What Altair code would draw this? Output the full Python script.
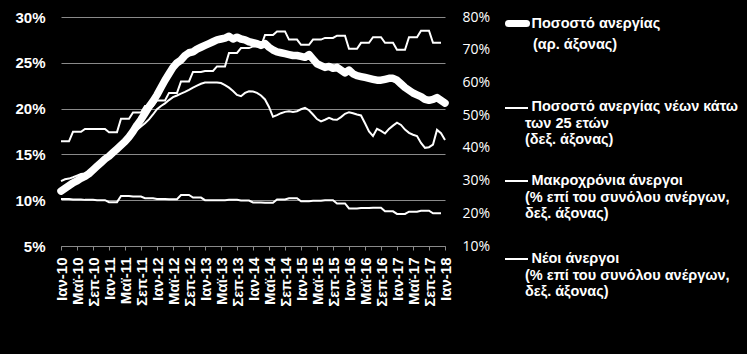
import altair as alt
import pandas as pd

# ---- data ----
month_abbr = ["Ιαν", "Φεβ", "Μαρ", "Απρ", "Μαϊ", "Ιουν", "Ιουλ", "Αυγ", "Σεπ", "Οκτ", "Νοε", "Δεκ"]
months = [f"{month_abbr[k % 12]}-{10 + k // 12}" for k in range(97)]

unemployment = [
    11.0, 11.3, 11.6, 11.9, 12.1, 12.4, 12.6, 12.9, 13.3, 13.7, 14.1, 14.5,
    14.8, 15.2, 15.6, 16.0, 16.4, 16.9, 17.5, 18.2, 18.8, 19.5, 20.2, 20.8,
    21.5, 22.3, 23.1, 23.8, 24.5, 25.0, 25.3, 25.8, 26.1, 26.2, 26.5, 26.7,
    26.9, 27.1, 27.3, 27.5, 27.6, 27.7, 27.9, 27.6, 27.8, 27.6, 27.5, 27.3,
    27.2, 27.1, 26.9, 27.1, 26.7, 26.4, 26.2, 26.1, 26.0, 25.9, 25.8, 25.8,
    25.7, 25.6, 25.9, 25.4, 24.9, 24.7, 24.5, 24.6, 24.4, 24.5, 24.2, 23.9,
    24.2, 23.8, 23.6, 23.5, 23.4, 23.3, 23.2, 23.1, 23.1, 23.2, 23.3, 23.3,
    23.1, 22.7, 22.3, 22.0, 21.7, 21.5, 21.3, 21.0, 20.9, 21.0, 21.2, 20.9,
    20.6,
]

youth = [
    29.8, 30.4, 30.6, 31.0, 31.5, 32.0, 32.2, 32.5, 33.2, 34.0, 35.0, 36.0,
    37.0, 38.0, 39.0, 40.0, 41.5, 43.0, 44.5, 45.5, 46.5, 47.5, 48.7, 50.2,
    51.8, 52.8, 53.6, 54.6, 55.5, 56.0, 56.6, 57.1, 57.7, 58.4, 59.0, 59.6,
    60.0, 60.0, 60.0, 60.0, 59.8, 59.2, 58.4, 57.4, 56.2, 55.8, 56.8, 57.3,
    57.2, 56.8, 56.0, 54.8, 52.5, 49.5, 50.0, 50.6, 51.0, 51.2, 51.0, 51.2,
    51.8, 52.2, 51.5, 50.2, 48.8, 48.1, 48.6, 49.2, 48.7, 48.6, 49.4, 50.4,
    50.9, 50.6, 50.2, 49.9, 47.5, 45.0, 43.6, 45.8, 45.2, 44.4, 45.8, 46.8,
    47.7, 47.0, 45.6, 44.6, 44.0, 43.6, 41.5, 40.0, 40.2, 41.0, 45.5, 44.5,
    42.4,
]

long_term_q = [
    42.0, 44.9, 45.8, 45.8, 44.8, 48.9, 50.8, 52.8,
    54.5, 56.8, 60.3, 63.2, 63.5, 64.9, 69.0, 70.5,
    71.0, 74.5, 75.6, 73.1, 71.5, 73.1, 73.6, 74.3,
    70.3, 72.1, 73.8, 72.1, 70.0, 73.8, 75.8, 72.1,
]

new_unemp_q = [
    24.4, 24.2, 24.1, 24.0, 23.4, 25.3, 25.1, 24.6,
    24.4, 24.3, 25.6, 24.8, 24.0, 24.0, 24.1, 23.9,
    23.3, 23.2, 24.2, 24.6, 23.7, 23.8, 24.0, 23.0,
    21.5, 21.6, 21.7, 20.6, 19.8, 20.5, 20.8, 20.0,
]

legend_lines = [
    ["Ποσοστό ανεργίας", "(αρ. άξονας)"],
    ["Ποσοστό ανεργίας νέων κάτω", "των 25 ετών", "(δεξ. άξονας)"],
    ["Μακροχρόνια άνεργοι", "(% επί του συνόλου ανέργων,", "δεξ. άξονας)"],
    ["Νέοι άνεργοι", "(% επί του συνόλου ανέργων,", "δεξ. άξονας)"],
]

# ---- tables ----
long_term = [v for v in long_term_q for _ in range(3)] + [None]
new_unemp = [v for v in new_unemp_q for _ in range(3)] + [None]
idx = list(range(97))

df_left = pd.DataFrame({"i": idx, "v": unemployment})
df_right = pd.concat([
    pd.DataFrame({"i": idx, "v": youth, "s": "youth"}),
    pd.DataFrame({"i": idx, "v": long_term, "s": "long"}),
    pd.DataFrame({"i": idx, "v": new_unemp, "s": "new"}),
])

label_array = "[" + ",".join(f"'{m}'" for m in months) + "]"
x_enc = alt.X(
    "i:Q",
    scale=alt.Scale(domain=[0, 96], nice=False, zero=False),
    axis=alt.Axis(
        values=list(range(0, 97, 4)),
        labelExpr=f"{label_array}[datum.value]",
        labelAngle=-90,
        labelFont="Liberation Sans",
        labelFontWeight="bold",
        labelFontSize=15,
        labelColor="white",
        labelPadding=7,
        tickSize=4,
        tickColor="#8a8a8a",
        domainColor="#8a8a8a",
        grid=False,
        title=None,
        labelOverlap=False,
    ),
    title=None,
)

right = alt.Chart(df_right).mark_line(color="white", strokeWidth=2).encode(
    x=x_enc,
    y=alt.Y(
        "v:Q",
        scale=alt.Scale(domain=[10, 80], nice=False, zero=False),
        axis=alt.Axis(
            orient="right",
            values=list(range(10, 81, 10)),
            labelExpr="datum.value + '%'",
            labelFont="Open Sans",
            labelFontSize=14,
            labelColor="white",
            labelPadding=17,
            domain=False,
            ticks=False,
            grid=False,
            title=None,
        ),
    ),
    detail="s:N",
)

left = alt.Chart(df_left).mark_line(color="white", strokeWidth=7.5, strokeJoin="round", strokeCap="round").encode(
    x=x_enc,
    y=alt.Y(
        "v:Q",
        scale=alt.Scale(domain=[5, 30], nice=False, zero=False),
        axis=alt.Axis(
            orient="left",
            values=list(range(5, 31, 5)),
            labelExpr="datum.value + '%'",
            labelFont="Liberation Sans",
            labelFontWeight="bold",
            labelFontSize=15,
            labelColor="white",
            labelPadding=16,
            domain=False,
            ticks=False,
            grid=True,
            gridColor="#8a8a8a",
            gridWidth=1,
            title=None,
        ),
    ),
)

# ---- legend (pixel layout relative to plot origin) ----
sym_y = [6.5, 91, 164, 242]
line_y = [[6.5, 27.5], [90, 106.5, 123], [164, 180.5, 197], [242, 258.5, 275]]
legend_layers = []
for k, lines in enumerate(legend_lines):
    if k == 0:
        sym = alt.Chart(pd.DataFrame({"k": [k]})).mark_rule(
            color="white", strokeWidth=7, strokeCap="round"
        ).encode(x=alt.value(447.5), x2=alt.value(465.5), y=alt.value(sym_y[k]))
    else:
        sym = alt.Chart(pd.DataFrame({"k": [k]})).mark_rule(
            color="white", strokeWidth=2
        ).encode(x=alt.value(444), x2=alt.value(467), y=alt.value(sym_y[k]))
    legend_layers.append(sym)
    for j, t in enumerate(lines):
        if j == 0:
            xx = 470.5
        else:
            xx = 472 if k == 0 else 464
        txt = alt.Chart(pd.DataFrame({"t": [t]})).mark_text(
            align="left", baseline="middle", font="Liberation Sans",
            fontWeight="bold", fontSize=14.5, color="white",
        ).encode(x=alt.value(xx), y=alt.value(line_y[k][j]), text="t:N")
        legend_layers.append(txt)

chart = alt.layer(right, left, *legend_layers).resolve_scale(
    y="independent"
).properties(
    width=384,
    height=229,
    autosize="none",
    padding={"left": 61, "top": 17, "right": 302, "bottom": 108},
    background="black",
).configure_view(stroke=None)

chart.save("out.html", embed_options={"renderer": "svg", "actions": False})
